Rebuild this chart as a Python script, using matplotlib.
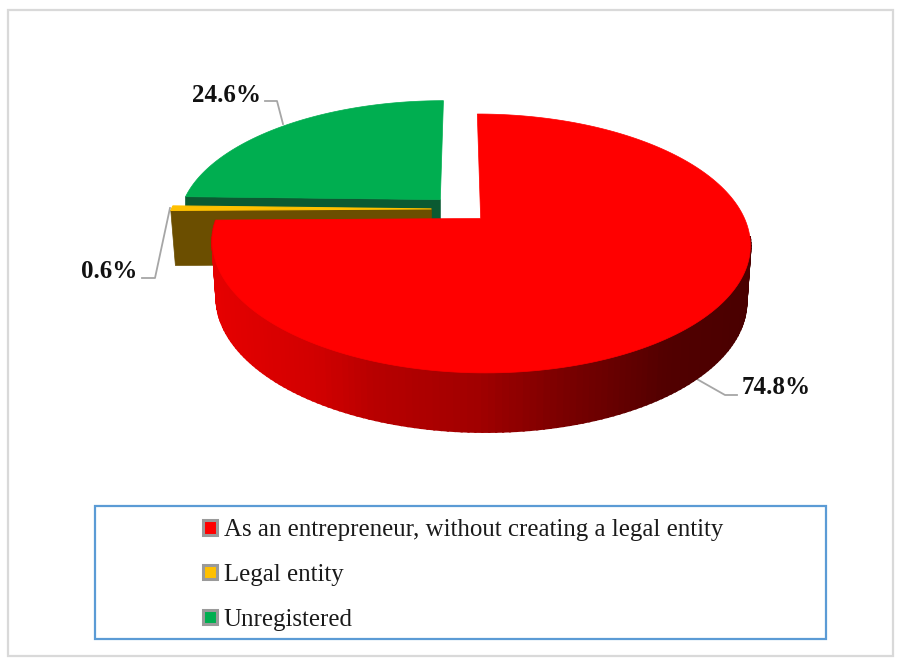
import numpy as np
import matplotlib
matplotlib.use("Agg")
import matplotlib.pyplot as plt
from matplotlib.colors import LinearSegmentedColormap
from matplotlib.patches import Patch, Rectangle

categories = ["As an entrepreneur, without creating a legal entity", "Legal entity", "Unregistered"]
shares = [74.8, 0.6, 24.6]
value_labels = ["74.8%", "0.6%", "24.6%"]
top_colors = ["#ff0000", "#ffc000", "#00ae50"]

plt.rcParams["font.family"] = ["Liberation Serif", "DejaVu Serif"]

fig = plt.figure(figsize=(8.98, 6.58), dpi=100, facecolor="white")
ax = fig.add_axes([0, 0, 1, 1])
ax.set_xlim(0, 898)
ax.set_ylim(658, 0)
ax.axis("off")

ax.add_patch(Rectangle((8, 10), 885, 646, fill=False, ec="#d9d9d9", lw=1.6))

CX, CY, RX, RY, K, EXPLODE, DEPTH, SHRINK = 460, 209, 260, 121, 0.19, 0.11, 55, 0.985


def project(theta, radius, mid, bottom=False):
    u = radius * np.cos(theta) + EXPLODE * np.cos(mid)
    v = radius * np.sin(theta) + EXPLODE * np.sin(mid)
    w = 1 + K * v
    x = CX + RX * u / w
    y = CY - RY * v / w
    if bottom:
        x = CX + 20 + (x - CX - 20) * SHRINK
        y = y + DEPTH * (1 + (1 - w) * 0.35)
    return x, y


# Slice angles, clockwise from twelve o'clock
fracs = np.array(shares) / sum(shares)
ends = 90 - 360 * np.cumsum(fracs)
starts = np.concatenate([[90], ends[:-1]])
spans = [(np.radians(a), np.radians(b)) for a, b in zip(starts, ends)]
mids = [(a + b) / 2 for a, b in spans]

# Unregistered: cut face, then top
a, b = spans[2]
m = mids[2]
ax0, ay0 = project(0, 0, m)
lx, ly = project(a, 1, m)
ax.fill([ax0, lx, lx, ax0], [ay0, ly, ly + DEPTH, ay0 + DEPTH], color="#0b5a32", lw=0.5, zorder=2)
t = np.linspace(a, b, 80)
x, y = project(t, 1, m)
ax.fill(np.r_[ax0, x], np.r_[ay0, y], color=top_colors[2], lw=0.5, zorder=3)

# Legal entity: cut face, then top
a, b = spans[1]
m = mids[1]
ax1, ay1 = project(0, 0, m)
lx, ly = project(a, 1, m)
lbx, lby = project(a, 1, m, bottom=True)
ax.fill([ax1, lx, lbx, ax1], [ay1, ly, lby, ay1 + DEPTH], color="#6b4e00", lw=0.5, zorder=4)
t = np.linspace(a, b, 10)
x, y = project(t, 1, m)
ax.fill(np.r_[ax1, x], np.r_[ay1, y], color=top_colors[1], lw=0.8, zorder=5)

# Red slice: shaded rim, then top
a, b = spans[0]
m = mids[0]
side_cmap = LinearSegmentedColormap.from_list(
    "rim", [(0, "#e60000"), (0.2, "#d00000"), (0.3, "#b80000"), (0.5, "#a00000"),
            (0.65, "#7c0000"), (0.85, "#520000"), (1, "#4a0000")])
t = np.linspace(b, np.radians(-8), 140)
tx, ty = project(t, 1, m)
bx, by = project(t, 1, m, bottom=True)
for i in range(len(t) - 1):
    shade = side_cmap(np.clip(((tx[i] + tx[i + 1]) / 2 - 212) / 538, 0, 1))
    ax.fill([tx[i], tx[i + 1], bx[i + 1], bx[i]], [ty[i], ty[i + 1], by[i + 1], by[i]],
            color=shade, lw=1.6, zorder=6)
t = np.linspace(a, b, 200)
x, y = project(t, 1, m)
ax2, ay2 = project(0, 0, m)
ax.fill(np.r_[ax2, x], np.r_[ay2, y], color=top_colors[0], lw=0.5, zorder=7)

# Leaders and value labels
leaders = {
    0: ([695, 725, 737], [378, 395, 395], 742, 387, "left"),
    1: ([142, 155, 170], [278, 278, 208], 137, 272, "right"),
    2: ([265, 277, 283], [101, 101, 124], 261, 95, "right"),
}
for i, (lxs, lys, tx_, ty_, ha) in leaders.items():
    ax.plot(lxs, lys, color="#a6a6a6", lw=1.3, zorder=1, solid_joinstyle="round")
    ax.text(tx_, ty_, value_labels[i], ha=ha, va="center", fontsize=18, fontweight="bold",
            color="#111111", zorder=9)

# Legend
ax.add_patch(Rectangle((95, 506), 731, 133, fill=False, ec="#5b9bd5", lw=1.6, zorder=8))
handles = [Patch(facecolor=c, edgecolor="#9a9a9a", lw=2.2) for c in top_colors]
leg = ax.legend(handles, categories, loc="upper left",
                bbox_to_anchor=(186 / 898, 1 - 502 / 658), frameon=False, fontsize=17.9,
                labelcolor="#1a1a1a", handlelength=0.54, handleheight=0.5, handletextpad=0.28,
                labelspacing=0.91, borderpad=0.3, borderaxespad=0.4)

fig.savefig("out.png", dpi=100, facecolor="white")
